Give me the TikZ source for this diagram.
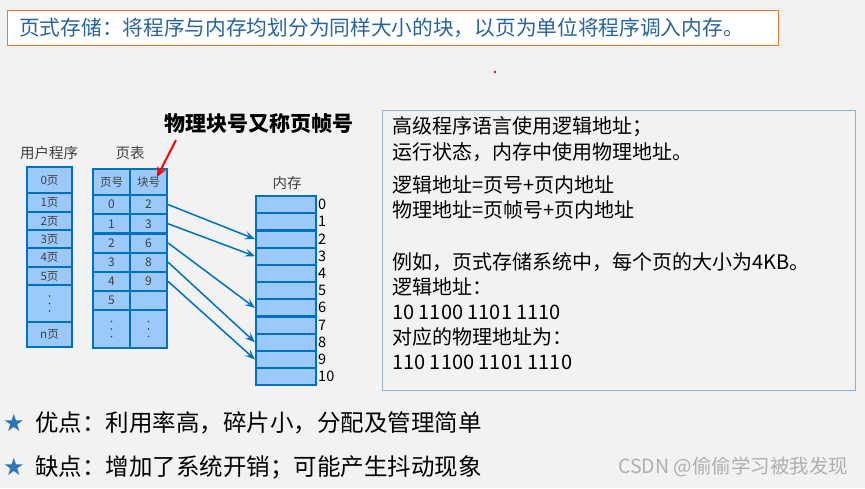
\documentclass[tikz,border=0pt]{standalone}
\usepackage{fontspec}
\setmainfont{Noto Sans CJK SC}
\newfontfamily\symfont{DejaVu Sans}
\usetikzlibrary{arrows.meta,calc}
\definecolor{bg}{RGB}{242,242,242}
\definecolor{lineblue}{RGB}{0,112,192}
\definecolor{cellblue}{RGB}{155,202,250}
\definecolor{titleblue}{RGB}{40,100,160}
\definecolor{orangeb}{RGB}{237,125,49}
\definecolor{boxline}{RGB}{140,180,215}
\definecolor{darktext}{RGB}{64,64,64}
\definecolor{starblue}{RGB}{46,117,182}
\definecolor{wmgray}{RGB}{175,175,175}
\begin{document}
\begin{tikzpicture}[x=1pt,y=-1pt,
  cellbase/.style={draw=lineblue, fill=cellblue, line width=2.2pt, inner sep=0pt, text=darktext},
  ucell/.style={cellbase, minimum width=45, font=\fontsize{11.5}{12}\selectfont},
  pcell/.style={cellbase, minimum width=37, minimum height=19.2, font=\fontsize{12}{12}\selectfont},
  mcell/.style={cellbase, minimum width=60, minimum height=17.2},
  numlbl/.style={anchor=west, inner sep=0pt, text=black, font=\fontsize{14.5}{15}\selectfont},
  collbl/.style={inner sep=0pt, text=darktext, font=\fontsize{14.5}{15}\selectfont},
  infotxt/.style={anchor=west, inner sep=0pt, text=black, font=\fontsize{20}{22}\selectfont},
  bottomtxt/.style={anchor=west, inner sep=0pt, text=black, font=\fontsize{23.5}{25}\selectfont},
  star/.style={inner sep=0pt, text=starblue, font=\symfont\fontsize{24}{24}\selectfont},
  arr/.style={draw=lineblue, line width=1.5pt, -{Stealth[length=10pt,width=8pt,inset=4pt]}},
  vdot/.style={fill=darktext},
]
\fill[bg] (0,0) rectangle (865,488);
\useasboundingbox (0,0) rectangle (865,488);

% title
\node[draw=orangeb, fill=white, line width=1.2pt, minimum width=771, minimum height=35, anchor=north west, inner sep=0pt] (titlebox) at (7,10) {};
\node[anchor=west, inner sep=0pt, text=titleblue, font=\fontsize{20.7}{22}\selectfont] (title) at (19,27.5) {页式存储：将程序与内存均划分为同样大小的块，以页为单位将程序调入内存。};
\fill[red] (495,72) circle (1.3);

% user program
\node[collbl] (ulbl) at (49,153) {用户程序};
\node[ucell, minimum height=26] (u0) at (49.5,180) {0页};
\node[ucell, minimum height=19] (u1) at (49.5,202.5) {1页};
\node[ucell, minimum height=18] (u2) at (49.5,221) {2页};
\node[ucell, minimum height=18] (u3) at (49.5,239) {3页};
\node[ucell, minimum height=19] (u4) at (49.5,257.5) {4页};
\node[ucell, minimum height=18] (u5) at (49.5,276) {5页};
\node[ucell, minimum height=37] (u6) at (49.5,303.5) {};
\node[ucell, minimum height=25] (u7) at (49.5,334.5) {n页};

% page table
\node[collbl] (plbl) at (130,153) {页表};
\node[pcell, minimum height=26, font=\fontsize{11.5}{12}\selectfont] (pah) at (111.5,182) {页号};
\node[pcell, minimum height=26, font=\fontsize{11.5}{12}\selectfont] (pbh) at (148.5,182) {块号};
\foreach \i/\b in {0/2,1/3,2/6,3/8,4/9,5/{}} {
  \node[pcell] (pa\i) at (111.5,{204.6+19.2*\i}) {\i};
  \node[pcell] (pb\i) at (148.5,{204.6+19.2*\i}) {\b};
}
\node[pcell, minimum height=38] (pad) at (111.5,329) {};
\node[pcell, minimum height=38] (pbd) at (148.5,329) {};

% vertical ellipsis dots
\foreach \n in {u6,pad,pbd} {
  \foreach \d in {-7.5,0,7.5} {
    \fill[vdot] ($(\n.center)+(0,\d)$) circle (0.9);
  }
}

% label with red arrow
\node[inner sep=0pt, font=\bfseries\fontsize{21}{22}\selectfont] (note) at (259,124) {物理块号又称页帧号};
\coordinate (rtail) at (176,140);
\coordinate (rhead) at (157,177);
\draw[red, line width=2pt, -{Stealth[length=10pt,width=9pt,inset=3pt]}] (rtail) -- (rhead);

% memory
\node[collbl] (mlbl) at (287,183) {内存};
\foreach \i in {0,...,10} {
  \node[mcell] (m\i) at (286,{196+8.6+17.2*\i}) {};
  \node[numlbl] (ml\i) at (318,{196+8.6+17.2*\i}) {\i};
}

% arrows
\foreach \i/\m in {0/2,1/3,2/6,3/8,4/9} {
  \draw[arr] (pb\i.east) -- (m\m.west);
}

% info box
\node[draw=boxline, line width=0.9pt, minimum width=473, minimum height=280, anchor=north west, inner sep=0pt] (info) at (382,110) {};
\node[infotxt] (i1) at (392,127) {高级程序语言使用逻辑地址；};
\node[infotxt] (i2) at (392,152) {运行状态，内存中使用物理地址。};
\node[infotxt] (i3) at (392,185) {逻辑地址=页号+页内地址};
\node[infotxt] (i4) at (392,210) {物理地址=页帧号+页内地址};
\node[infotxt] (i5) at (392,262) {例如，页式存储系统中，每个页的大小为4KB。};
\node[infotxt] (i6) at (392,287) {逻辑地址：};
\node[infotxt] (i7) at (392,312) {10 1100 1101 1110};
\node[infotxt] (i8) at (392,337) {对应的物理地址为：};
\node[infotxt] (i9) at (392,362) {110 1100 1101 1110};

% bottom
\node[star] (s1) at (14,423) {★};
\node[bottomtxt] (b1) at (35,423) {优点：利用率高，碎片小，分配及管理简单};
\node[star] (s2) at (14,467) {★};
\node[bottomtxt] (b2) at (35,467) {缺点：增加了系统开销；可能产生抖动现象};
\node[anchor=west, inner sep=0pt, text=wmgray, font=\fontsize{19.5}{20}\selectfont] (wm) at (618,467) {CSDN @偷偷学习被我发现};
\end{tikzpicture}
\end{document}
